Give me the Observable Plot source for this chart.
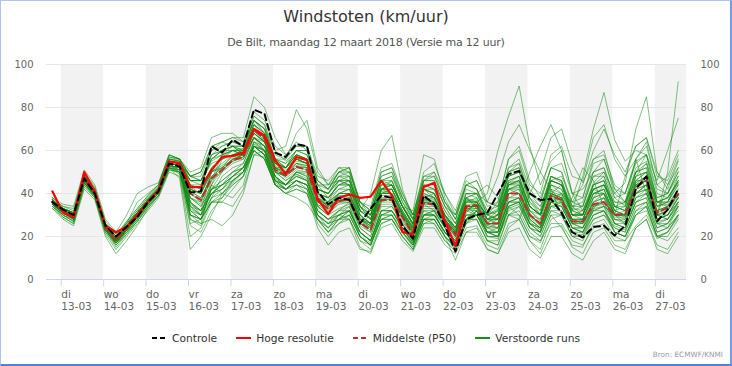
<!DOCTYPE html>
<html><head><meta charset="utf-8">
<script src="https://cdn.jsdelivr.net/npm/d3@7"></script>
<script src="https://cdn.jsdelivr.net/npm/@observablehq/plot@0.6"></script>
<style>
html,body{margin:0;padding:0;background:#fff;}
#frame{position:relative;width:732px;height:366px;overflow:hidden;font-family:"DejaVu Sans",sans-serif;background:#fff;}
#border{position:absolute;left:0;top:0;right:0;bottom:0;border:1px solid #a8c6ee;border-right:2px solid #6f9fdc;border-bottom:2px solid #4f84cf;pointer-events:none;}
#title{position:absolute;left:0;width:732px;top:7px;line-height:20px;font-size:16px;color:#333;text-align:center;}
#subtitle{position:absolute;left:0;width:732px;top:36px;line-height:14px;font-size:11px;letter-spacing:-0.2px;color:#555;text-align:center;}
#chart{position:absolute;left:0;top:56px;}
#legend{position:absolute;left:0;width:732px;top:331px;height:14px;display:flex;justify-content:center;align-items:center;gap:19px;font-size:10.7px;color:#333;}
.item{display:flex;align-items:center;gap:5px;white-space:nowrap;}
.item svg{display:block;}
#credits{position:absolute;right:9px;top:350px;font-size:7.3px;color:#999;}
</style></head>
<body>
<div id="frame">
  <div id="title">Windstoten (km/uur)</div>
  <div id="subtitle">De Bilt, maandag 12 maart 2018 (Versie ma 12 uur)</div>
  <div id="chart"></div>
  <div id="legend"></div>
  <div id="credits">Bron: ECMWF/KNMI</div>
  <div id="border"></div>
</div>
<script>
// ---- data (km/uur), 6-hourly steps starting 12 maart 19:00 ----
const dayNames = ["di","wo","do","vr","za","zo","ma","di","wo","do","vr","za","zo","ma","di"];
const dayDates = ["13-03","14-03","15-03","16-03","17-03","18-03","19-03","20-03","21-03","22-03","23-03","24-03","25-03","26-03","27-03"];
const yTicks = [0,20,40,60,80,100];

const control = [36,32.5,30,47, 40,25,20,24.5, 29,36,41,54, 52.5,40.5,41,62, 59,65,62,79, 77,59,57,63, 62,41,35,38, 37,26,33,39, 38,25,19,39, 35,25,13,28, 30,31,40,49, 50.5,40,37,37.5, 31,22,19.5,24.5, 25,20.5,25,42, 48,27,32.5,42];
const hres = [41,31,29,50, 41,25,22,24.5, 30,36,41.5,55, 54,43,43,51, 57,57.5,59,70, 67,55.5,49,57, 55.5,37.5,30.5,38, 39.5,38,38.5,46, 39,22,21,43, 45,27,15.5,34];
const p50 = [36,32,29,47, 40,24,18,24, 30,36,41,54, 53,40,37,47, 51,55.5,57,69.5, 65.5,51,48.5,52.5, 51,36.5,33,36.5, 37.5,26.5,23,37, 37,29,21,35.5, 35,27,21,34, 34.5,26,26,40, 40,30,26,39, 37,27,27,35, 36,30,30.5,43, 46,31,33.5,39.5];

const runs = [
[35,31,30,46,41,25,19,23,29,35,40,53, 52,30,28,42,50,56,58,70,66,52,47,51,50,35,31,35, 36,25,22,36,38,30,22,36,34,26,20,33, 33,25,24,42,44,31,25,41,39,26,24,33,38,31,29,45,48,30,32,40],
[38,34,33,49,42,26,21,27,33,39,44,57, 56,48,50,60,62,64,62,76,72,60,55,60,58,44,42,50, 52,34,30,46,44,34,25,42,40,30,23,37, 37,22,20,34,30,20,17,30,24,16,15,26,28,20,18,25,30,19,22,29],
[34,30,27,45,38,22,15,21,27,33,39,52, 49,25,22,32,38,46,50,64,62,48,44,49,46,30,24,30, 34,20,16,30,32,24,17,30,32,24,17,31, 36,30,33,50,52,38,32,48,45,33,32,42,44,36,35,52,55,38,40,48],
[33,29,26,44,39,23,17,23,28,35,41,52, 47,14,20,30,40,45,50,63,60,47,44,50,49,34,30,33, 35,24,20,35,35,27,20,33,33,25,19,32, 35,20,19,33,35,24,20,32,30,20,21,30,32,25,23,38,42,27,28,35],
[37,33,31,48,41,25,20,25,31,37,42,55, 55,46,46,55,58,60,60,72,68,55,52,58,56,42,40,46, 48,30,26,42,46,34,25,42,40,30,24,38, 36,40,60,76,90,62,44,55,60,40,42,50,52,38,40,55,58,36,38,45],
[35,32,28,47,40,24,18,24,30,36,42,55, 52,34,30,40,44,50,54,66,62,48,42,46,44,30,26,32, 36,26,30,48,50,36,28,44,42,32,26,38, 33,28,30,45,48,30,28,44,40,32,48,70,87,65,55,60,58,40,38,45],
[37,32,30,48,40,25,19,25,31,37,42,56, 56,44,42,58,62,64,62,74,70,56,54,58,56,40,38,44, 44,30,26,41,40,31,24,39,38,30,24,37, 36,25,28,44,45,32,30,48,46,30,32,45,50,40,45,70,85,50,42,55],
[36,33,31,47,39,24,17,22,28,35,40,53, 51,30,28,38,42,48,52,62,58,46,42,46,44,28,22,28, 32,22,18,32,34,26,18,30,30,22,16,28, 30,24,24,38,38,29,25,37,35,26,26,33,34,29,29,40,44,30,50,92],
[37,34,32,50,43,27,21,26,36,40,44,58, 56,48,48,60,64,66,66,85,80,66,58,64,60,44,38,44, 46,32,28,44,44,34,26,42,40,30,22,36, 38,28,26,42,43,32,27,40,38,28,26,34,35,28,27,38,40,28,30,36],
[35,31,29,46,40,24,18,24,30,37,42,55, 54,44,44,56,58,62,62,74,70,60,62,79,70,50,44,50, 50,36,32,50,52,38,28,46,46,34,26,40, 40,30,32,48,50,36,32,48,46,34,36,50,52,38,34,48,50,36,34,42],
[34,30,27,44,38,22,16,22,27,34,39,51, 50,30,26,28,25,30,40,58,60,48,44,48,46,32,28,30, 32,22,18,30,32,24,18,30,30,22,18,30, 30,20,20,34,36,24,20,32,32,22,20,28,30,24,22,34,36,24,26,32],
[36,32,30,47,41,25,19,25,31,37,41,53, 51,28,26,44,56,60,58,66,62,54,50,56,54,38,32,40, 42,28,24,40,42,32,24,40,38,28,20,32, 32,22,22,36,38,27,23,36,34,24,24,34,36,30,32,48,54,36,38,46],
[36,31,28,46,40,24,18,24,30,36,41,54, 53,42,40,50,52,58,60,72,68,54,52,58,56,42,40,48, 50,36,34,52,54,40,30,48,50,36,28,44, 46,34,36,56,60,44,40,58,62,48,46,66,72,56,48,62,66,48,46,58],
[37,33,30,48,40,24,18,24,29,35,40,53, 50,32,28,36,40,46,50,62,58,44,40,42,40,28,22,26, 28,18,14,26,28,20,14,26,26,18,13,24, 25,16,14,26,28,18,12,24,25,15,12,22,24,16,14,24,28,14,12,20],
[35,31,29,47,40,25,19,24,30,36,42,55, 54,46,46,58,60,62,60,70,66,54,50,56,54,40,38,42, 42,30,26,42,42,30,24,38,40,30,24,38, 40,44,38,30,28,40,50,42,30,38,52,46,34,30,48,56,40,30,44,52],
[36,32,29,47,41,25,19,25,30,36,41,54, 53,38,36,46,50,54,56,66,64,50,46,50,48,34,30,38, 40,28,26,42,44,34,26,42,40,30,24,38, 40,36,48,64,72,60,50,66,70,54,45,56,60,42,40,56,62,44,48,60],
[34,29,26,43,38,21,14,20,26,32,38,50, 48,20,24,36,36,34,42,58,57,45,42,46,44,30,26,28, 30,20,16,28,30,24,17,30,32,24,18,30, 30,22,22,36,38,26,22,34,36,26,24,32,34,26,24,36,38,26,26,34],
[38,35,34,51,44,28,22,30,40,43,45,58, 56,48,50,62,64,66,64,78,74,62,58,62,62,48,46,52, 52,36,32,50,52,40,30,50,54,40,30,46, 42,32,30,45,46,34,30,44,42,30,30,42,44,34,32,45,48,34,35,42],
[36,32,29,46,40,24,17,23,29,35,41,54, 53,42,40,52,56,58,58,70,66,54,52,58,56,40,38,44, 46,32,40,60,67,42,28,44,42,30,24,40, 40,28,30,50,52,36,30,46,44,30,30,42,44,32,30,44,46,30,30,38],
[35,30,27,45,39,23,16,22,28,34,39,52, 50,34,30,40,44,48,52,64,60,46,42,44,40,24,16,22, 24,14,13,24,26,18,13,24,24,16,12,22, 22,14,12,22,24,14,10,20,20,12,9,18,22,14,12,24,28,16,14,22],
[37,33,31,49,42,26,20,26,31,37,43,56, 55,48,46,56,60,62,58,70,64,58,56,62,62,46,42,50, 52,36,30,46,48,36,28,46,46,34,26,40, 38,28,28,44,46,34,30,46,44,32,34,48,50,36,36,50,54,38,40,50],
[35,31,28,45,39,23,17,23,29,35,40,52, 50,26,28,42,44,46,50,60,56,44,42,46,42,28,22,28, 32,20,16,30,30,22,16,28,28,20,14,26, 32,24,26,42,44,30,26,40,38,26,28,40,42,30,28,42,44,28,30,38],
[36,32,29,47,40,24,18,24,30,36,41,54, 53,42,40,50,53,57,58,70,66,52,49,54,53,38,34,36, 36,24,20,34,34,26,18,32,30,22,16,28, 28,18,18,34,36,50,62,72,60,40,32,44,46,30,26,38,40,26,24,34],
[36,31,29,48,41,25,18,23,29,36,41,54, 53,33,30,44,51,55,57,69,65,51,48,52,51,36,33,36, 37,26,23,37,37,29,21,35,35,27,21,34, 34,26,26,40,40,30,26,39,37,27,27,35,36,30,30,43,46,31,33,39],
[37,33,31,49,42,26,20,27,33,39,44,58, 56,50,52,66,68,68,64,76,72,56,52,56,54,38,34,38, 38,27,24,38,38,30,22,36,36,28,22,34, 34,26,26,42,42,30,26,40,38,28,28,38,40,30,30,44,46,32,34,40],
[35,32,30,46,39,24,18,24,30,37,42,55, 54,48,50,62,64,62,58,66,60,50,48,56,56,42,40,48, 48,34,28,42,44,34,26,40,38,28,22,36, 36,30,32,48,50,40,36,52,54,40,38,56,58,44,40,54,58,42,40,50],
[35,31,28,45,39,23,17,23,29,35,40,52, 51,38,35,44,40,38,44,62,58,44,40,38,35,28,24,28, 30,20,17,28,28,20,14,26,28,20,16,28, 28,18,16,30,32,22,18,30,30,20,18,28,30,22,20,32,34,20,22,30],
[37,32,30,48,41,25,19,25,31,37,42,55, 54,41,38,48,52,56,58,70,66,53,50,54,53,38,35,39, 39,28,25,40,40,31,23,37,36,27,21,34, 33,24,22,36,38,26,24,38,40,36,44,60,70,58,50,62,66,50,44,56],
[36,33,31,47,40,24,18,24,30,36,41,54, 53,36,32,42,46,50,52,62,60,46,44,48,46,34,36,46, 44,28,26,42,44,34,26,46,50,40,32,48, 50,36,34,52,54,40,34,48,46,32,30,44,46,32,30,42,44,30,28,36],
[34,30,28,45,39,23,16,21,27,34,40,52, 51,30,28,36,36,42,48,62,60,46,42,44,42,30,26,28, 28,18,16,28,28,22,16,28,26,18,14,26, 30,22,22,36,36,26,22,34,32,22,22,30,32,24,22,34,36,22,24,30],
[38,33,31,48,41,26,20,26,32,38,43,56, 55,46,46,56,60,62,62,74,68,56,54,60,58,44,44,52, 50,36,32,48,50,38,30,46,48,36,28,42, 40,32,34,52,56,42,36,52,50,36,34,48,48,34,34,50,52,36,36,48],
[33,28,25,42,37,20,12,18,25,33,39,51, 50,32,30,38,40,44,48,60,56,44,40,44,42,26,20,26, 30,20,16,28,30,22,15,28,28,20,15,27, 32,26,30,46,48,34,30,46,44,30,28,40,40,28,26,40,42,28,30,38],
[36,32,29,46,40,24,18,25,31,37,42,55, 54,48,46,54,56,58,58,68,64,54,52,60,60,46,42,50, 48,34,28,42,42,32,24,38,36,26,20,32, 30,20,20,34,36,26,24,40,44,34,34,50,56,42,36,46,46,30,28,36],
[36,31,29,47,40,25,19,25,30,36,41,54, 53,41,38,48,52,56,58,70,66,52,49,53,52,37,34,37, 38,28,25,40,42,34,32,58,56,38,28,44, 42,30,28,44,46,34,30,44,42,30,30,42,44,32,30,44,48,32,34,40],
[35,32,30,47,40,24,17,23,29,35,40,53, 52,34,32,40,42,48,52,62,58,46,44,50,48,32,28,32, 34,22,18,32,32,24,16,30,30,22,16,28, 32,22,20,30,30,20,18,26,26,18,16,24,26,18,18,30,34,20,18,24],
[37,33,31,48,41,25,19,25,31,37,42,55, 54,46,44,56,60,60,58,68,64,52,50,56,54,42,40,46, 46,34,30,44,44,34,28,44,44,34,30,44, 46,36,34,48,50,38,34,46,44,32,30,40,42,30,30,40,44,30,32,38],
[36,32,28,46,40,24,18,24,30,36,41,53, 52,36,32,40,44,48,50,60,56,44,40,42,40,28,24,30, 32,22,18,30,30,22,16,28,28,20,15,26, 28,18,16,30,34,24,22,36,38,28,28,40,42,30,30,46,50,36,38,46],
[37,33,30,47,40,25,19,25,31,37,42,56, 55,43,40,50,54,58,60,74,70,56,56,68,74,52,44,46, 44,32,28,42,40,30,22,36,36,28,22,34, 34,26,26,40,40,30,26,40,38,28,28,38,40,30,30,44,46,32,34,40],
[35,31,29,46,39,23,17,23,29,35,40,53, 52,36,30,46,58,60,58,66,62,50,48,54,52,40,38,44, 44,32,28,44,46,34,26,42,42,32,24,38, 34,28,32,50,54,38,30,42,36,24,22,32,32,22,20,30,32,20,20,28],
[36,32,30,47,40,24,18,24,30,36,41,54, 53,38,34,42,46,50,52,62,58,46,44,50,50,37,35,40, 42,32,30,46,48,38,30,48,48,36,30,44, 42,30,28,42,40,28,24,36,34,24,22,34,36,26,26,40,44,30,32,40],
[36,32,29,46,40,24,18,24,30,36,41,54, 53,40,37,47,51,55,57,68,64,50,46,49,47,32,28,30, 28,15,12,26,28,20,14,28,30,22,17,30, 30,22,22,38,40,28,24,36,36,26,26,36,38,28,28,40,42,28,30,36],
[37,33,30,48,41,25,19,25,31,37,42,55, 54,44,42,50,52,56,56,66,62,52,52,60,60,46,42,48, 46,32,28,42,42,32,24,38,36,28,22,35, 35,27,28,44,46,34,30,46,48,36,38,54,56,40,36,50,52,36,36,46],
[36,31,29,46,40,24,18,24,30,36,41,54, 53,36,32,40,42,46,50,62,60,48,44,46,44,32,28,32, 32,22,18,32,32,26,18,32,32,24,18,32, 36,30,36,56,62,46,38,52,50,34,30,42,40,26,24,36,38,24,26,34],
[35,32,29,46,40,24,18,24,30,36,41,54, 53,35,32,50,58,60,60,72,68,56,52,56,54,40,36,42, 44,30,26,40,40,30,22,36,35,27,21,34, 34,26,26,40,40,30,26,39,37,27,27,36,40,32,34,50,58,46,60,75],
[36,32,30,48,41,25,19,25,31,37,42,55, 54,38,34,42,44,48,52,64,60,48,44,48,46,34,30,36, 38,26,22,36,36,28,20,34,34,26,20,33, 32,22,20,32,34,24,22,36,40,30,30,44,46,34,32,48,50,34,36,44],
[36,32,29,47,40,24,18,24,30,36,41,54, 53,42,40,52,56,58,58,68,64,52,50,56,54,38,34,40, 40,28,24,38,37,29,21,35,32,20,9,22, 24,14,12,24,28,18,14,28,30,20,20,30,32,22,20,32,36,22,24,30],
[37,33,31,48,41,26,20,26,32,38,43,57, 56,40,36,50,57,60,61,74,70,55,51,55,54,39,36,40, 40,29,26,40,40,31,23,37,38,29,23,36, 36,28,28,44,44,32,28,42,40,28,26,36,38,26,24,36,40,26,28,34],
[35,31,28,45,39,23,17,23,29,35,40,53, 52,32,28,36,38,44,48,60,56,44,42,46,44,30,26,30, 32,22,18,32,32,24,17,30,30,22,16,28, 34,26,24,36,36,26,22,34,34,24,24,38,44,34,36,56,64,44,40,52],
[36,32,30,47,40,24,18,24,30,36,41,54, 53,46,46,58,60,62,60,72,66,54,52,58,56,42,40,46, 46,34,30,46,46,34,26,42,38,28,22,34, 30,22,24,40,42,28,24,38,36,24,22,32,34,22,20,30,34,20,22,30],
[37,32,29,46,40,25,19,25,31,37,42,55, 54,28,25,38,48,52,54,66,62,50,48,52,52,38,36,40, 40,28,25,39,39,31,23,37,37,29,23,36, 36,28,30,46,48,34,30,46,44,30,30,44,48,34,32,46,50,34,36,44]
];

// ---- time axis ----
const HOUR = 3600e3;
const t0 = Date.UTC(2018, 2, 12, 19);
const timeAt = i => new Date(t0 + i * 6 * HOUR);
const tickDates = dayDates.map((d, k) => new Date(Date.UTC(2018, 2, 13 + k)));
const bandStarts = tickDates.filter((d, k) => k % 2 === 0);
const xDomain = [new Date(Date.UTC(2018, 2, 12, 15, 40)), new Date(Date.UTC(2018, 2, 27, 17, 40))];

const toRows = (arr, name) => arr.map((v, i) => ({t: timeAt(i), v, s: name}));
const runRows = runs.flatMap((r, k) => toRows(r, "run" + k));
const labelFor = new Map(tickDates.map((d, k) => [+d, dayNames[k] + "\n" + dayDates[k]]));

const chart = Plot.plot({
  width: 732, height: 260,
  marginTop: 8, marginBottom: 37, marginLeft: 46, marginRight: 46,
  style: {fontFamily: "DejaVu Sans, sans-serif", fontSize: "10px", color: "#666", background: "transparent", overflow: "visible"},
  x: {type: "utc", domain: xDomain},
  y: {domain: [0, 100]},
  marks: [
    Plot.rect(bandStarts, {x1: d => d, x2: d => new Date(+d + 24 * HOUR), fill: "#f2f2f2", clip: true}),
    Plot.gridY(yTicks, {stroke: "#e6e6e6", strokeOpacity: 1}),
    Plot.axisY(yTicks, {anchor: "left", tickSize: 0, tickPadding: 13, fontSize: 10, fill: "#666", label: null}),
    Plot.axisY(yTicks, {anchor: "right", tickSize: 0, tickPadding: 14, fontSize: 10, fill: "#666", label: null}),
    Plot.line(runRows, {x: "t", y: "v", z: "s", stroke: "#0d8a0d", strokeOpacity: 0.52, strokeWidth: 1}),
    Plot.line(toRows(p50, "p50"), {x: "t", y: "v", stroke: "#b8312c", strokeWidth: 2, strokeDasharray: "6,4"}),
    Plot.line(toRows(hres, "hres"), {x: "t", y: "v", stroke: "#ff0000", strokeWidth: 2.2}),
    Plot.line(toRows(control, "ctrl"), {x: "t", y: "v", stroke: "#000", strokeWidth: 2, strokeDasharray: "6,4"}),
    Plot.ruleY([0], {stroke: "#ccd6eb", strokeWidth: 1}),
    Plot.axisX(tickDates, {tickSize: 7, stroke: "#ccd6eb", strokeOpacity: 1, tickPadding: 3, textAnchor: "start", fontSize: 10.5, fill: "#666", lineHeight: 1.15, tickFormat: d => labelFor.get(+d), label: null})
  ]
});
document.getElementById("chart").appendChild(chart);

// ---- legend ----
const legendItems = [
  {name: "Controle", color: "#000", dash: "5,3"},
  {name: "Hoge resolutie", color: "#ff0000", dash: null},
  {name: "Middelste (P50)", color: "#b8312c", dash: "5,3"},
  {name: "Verstoorde runs", color: "#1a8a1a", dash: null}
];
const legend = document.getElementById("legend");
for (const it of legendItems) {
  const el = document.createElement("div");
  el.className = "item";
  el.innerHTML = `<svg width="15" height="6"><line x1="0" x2="15" y1="3" y2="3" stroke="${it.color}" stroke-width="2" ${it.dash ? `stroke-dasharray="${it.dash}"` : ""}/></svg><span>${it.name}</span>`;
  legend.appendChild(el);
}
</script>
</body></html>
